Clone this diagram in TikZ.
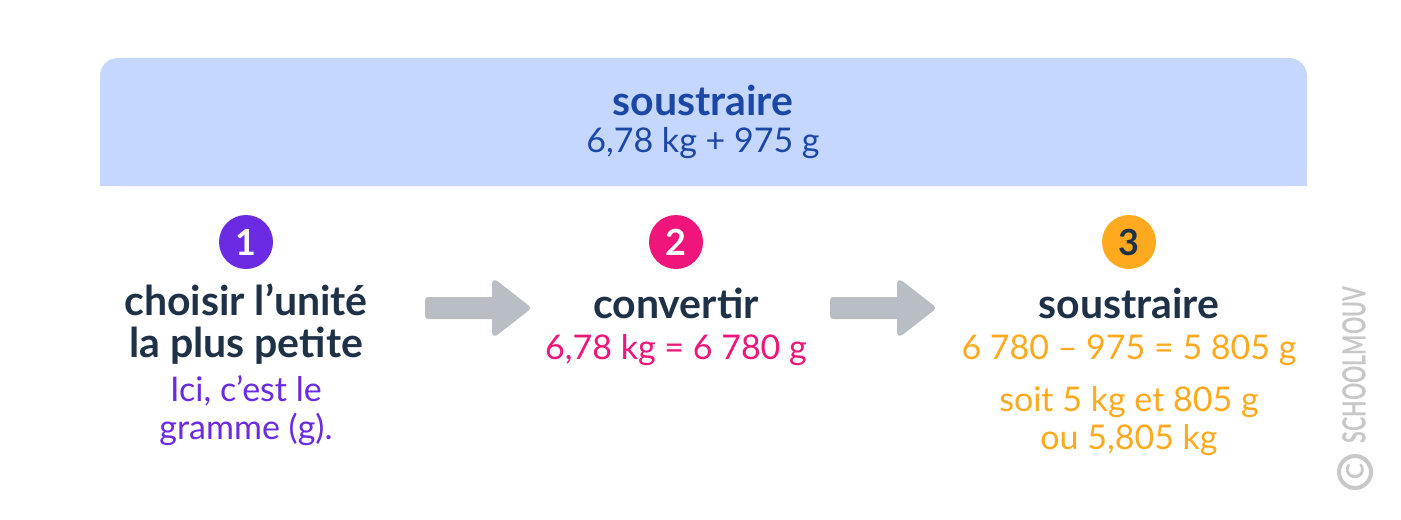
\documentclass[tikz,border=0pt]{standalone}
\usepackage{fontspec}
\setmainfont{Lato}
\usepackage{tikz}
\usetikzlibrary{positioning}
\definecolor{bleuclair}{HTML}{C5D7FF}
\definecolor{bleufonce}{HTML}{1B47A6}
\definecolor{violet}{HTML}{6A2BE2}
\definecolor{rose}{HTML}{F0157A}
\definecolor{orange}{HTML}{FFAA1E}
\definecolor{ardoise}{HTML}{1F3146}
\definecolor{grisfleche}{HTML}{B8BEC4}
\definecolor{grismarque}{HTML}{C8C8C8}

\begin{document}
\begin{tikzpicture}[x=0.5pt,y=-0.5pt]
\tikzset{
    titre/.style = {font=\fontsize{20.5}{21}\selectfont\bfseries, text=ardoise, align=center, inner sep=0pt},
    texte/.style = {font=\fontsize{17}{19}\selectfont, align=center, inner sep=0pt},
    pastille/.style = {circle, minimum size=27pt, inner sep=0pt, text=white, font=\fontsize{18}{20}\selectfont\bfseries},
    fleche/.style = {fill=grisfleche, draw=grisfleche, line width=3pt, line join=round},
    marque/.style = {rotate=90, text=grismarque, inner sep=0pt},
}
\useasboundingbox (0,0) rectangle (1401,519);
\fill[white] (0,0) rectangle (1401,519);

% bandeau du haut
\fill[bleuclair, rounded corners=9pt] (100,58) rectangle (1307,186);
\fill[bleuclair] (100,120) rectangle (1307,186);
\node (titre) [titre, text=bleufonce] at (703,100) {soustraire};
\node (calcul) [texte, text=bleufonce] at (703,143) {6,78 kg + 975 g};

% etape 1
\node (p1) [pastille, fill=violet] at (246,242) {1};
\node (t1) [titre] at (246,324) {choisir l’unité\\la plus petite};
\node (d1) [texte, text=violet] at (246,411) {Ici, c’est le\\gramme (g).};

% etape 2
\node (p2) [pastille, fill=rose] at (676,242) {2};
\node (t2) [titre] at (676,303) {convertir};
\node (d2) [texte, text=rose] at (676,350) {6,78 kg = 6 780 g};

% etape 3
\node (p3) [pastille, fill=orange, text=ardoise] at (1129,242) {3};
\node (t3) [titre] at (1129,303) {soustraire};
\node (d3) [texte, text=orange] at (1129,350) {6 780 – 975 = 5 805 g};
\node (e3) [texte, text=orange] at (1129,421) {soit 5 kg et 805 g\\ou 5,805 kg};

% fleches
\coordinate (f1) at (428,308);
\coordinate (f2) at (833,308);
\foreach \f in {f1,f2}
  \draw[fleche] (\f) ++(0,-8) -- ++(67,0) -- ++(0,-17) -- ++(32,25)
    -- ++(-32,25) -- ++(0,-17) -- ++(-67,0) -- cycle;

% marque
\node (nom) [marque, font=\fontsize{16}{18}\selectfont\bfseries] at (1354,365)
  {\scalebox{0.67}[1]{SCHOOLMOUV}};
\node (copy) [marque, circle, draw=grismarque, line width=2pt, minimum size=16pt,
  font=\fontsize{12}{12}\selectfont\bfseries] at (1355,472) {C};
\end{tikzpicture}
\end{document}
